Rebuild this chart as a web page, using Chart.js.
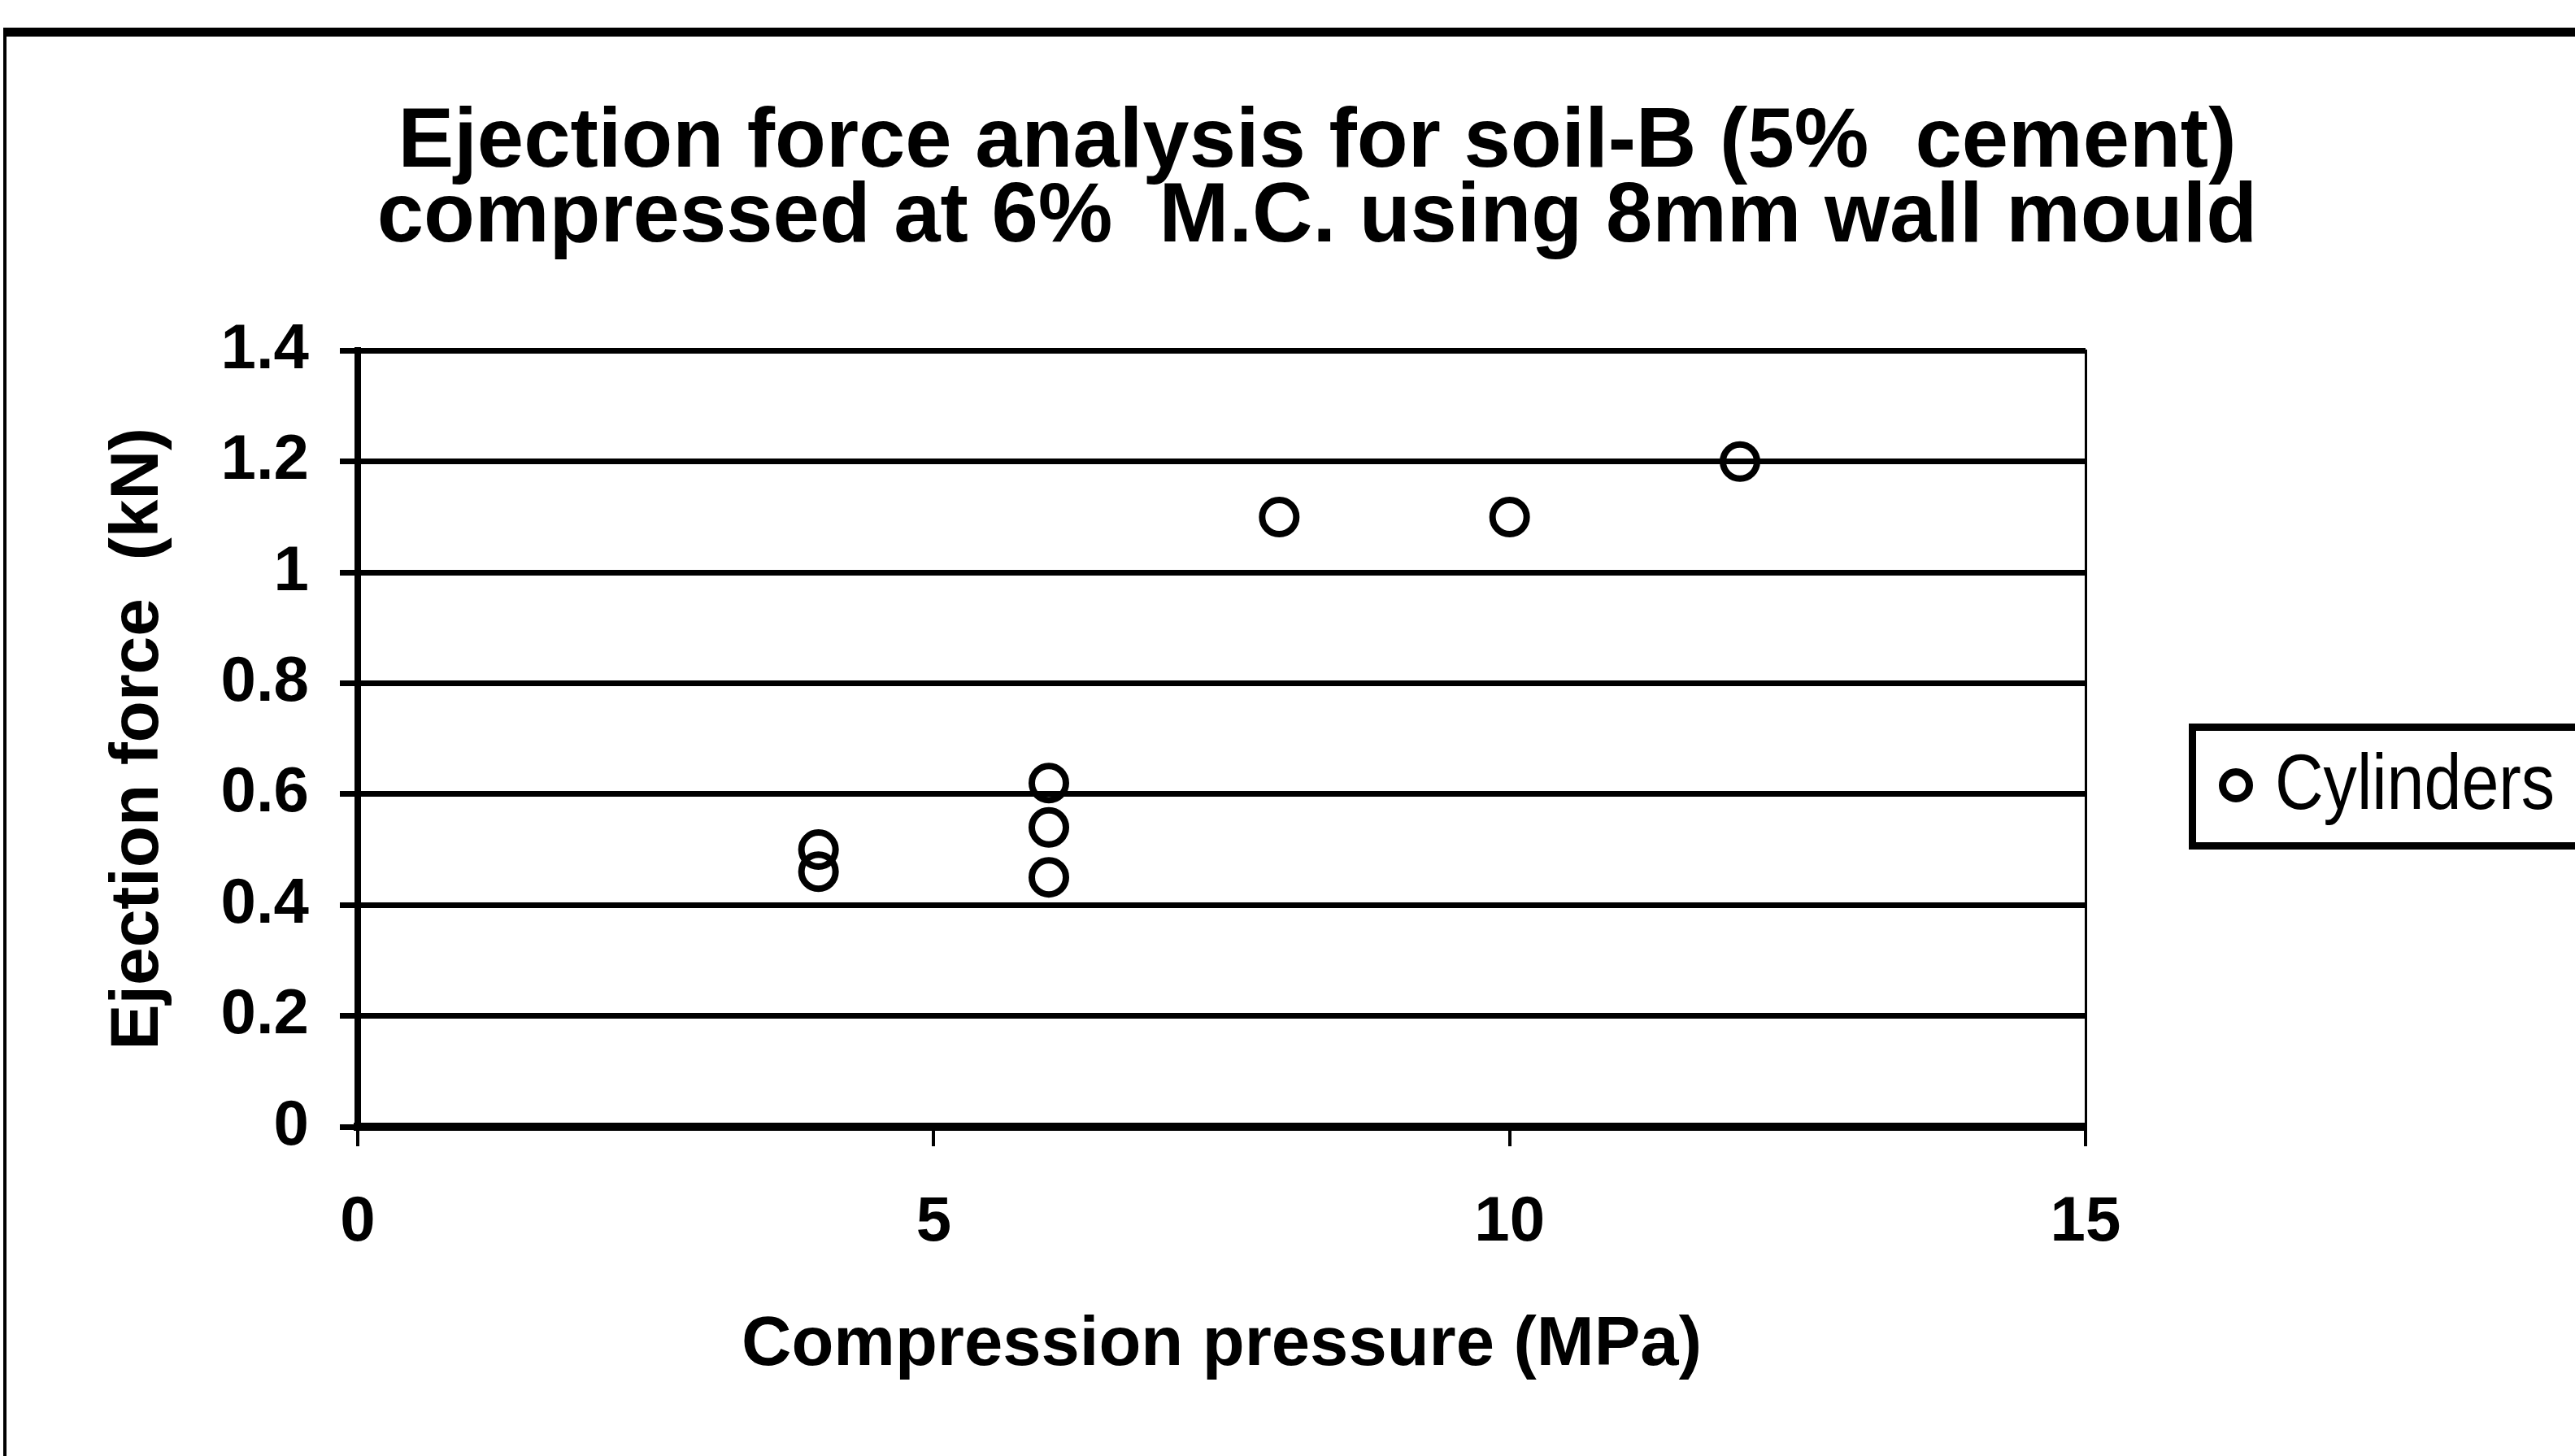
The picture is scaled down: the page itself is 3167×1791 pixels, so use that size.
<!DOCTYPE html>
<html>
<head>
<meta charset="utf-8">
<script src="https://cdn.jsdelivr.net/npm/chart.js@4"></script>
<style>
  body { margin: 0; background: #fff; overflow: hidden; }
  #wrap { position: relative; width: 3167px; height: 1791px; }
  #frame {
    position: absolute; left: 4px; top: 34px; right: -20px; bottom: -20px;
    border-top: 11px solid #000; border-left: 4px solid #000;
  }
  #legend {
    position: absolute; left: 2692px; top: 890px; width: 540px; height: 137px;
    border: 9px solid #000; background: #fff;
    font-family: "Liberation Sans", Arial, sans-serif; color: #000;
  }
  #legend .dot {
    position: absolute; left: 28px; top: 46px;
    width: 24px; height: 24px; border: 9px solid #000; border-radius: 50%;
  }
  #legendLabel {
    position: absolute; left: 97px; top: 15px;
    font-size: 96px; line-height: 1; white-space: nowrap;
    transform: scaleX(0.86); transform-origin: left center;
  }
  canvas { position: absolute; left: 0; top: 0; }
</style>
</head>
<body>
<div id="wrap">
  <div id="frame"></div>
  <canvas id="chart" width="3167" height="1791"></canvas>
  <div id="legend"><span class="dot"></span><span id="legendLabel"></span></div>
</div>
<script>
// data
const seriesName = 'Cylinders';
const pressure = [4, 4, 6, 6, 6, 8, 10, 12];
const ejectionForce = [0.50, 0.46, 0.62, 0.54, 0.45, 1.10, 1.10, 1.20];

const xMin = 0, xMax = 15, xStep = 5;
const yMin = 0, yMax = 1.4, yStep = 0.2;

const titleLines = [
  'Ejection force analysis for soil-B (5%  cement)',
  'compressed at 6%  M.C. using 8mm wall mould'
];
const xTitle = 'Compression pressure (MPa)';
const yTitle = 'Ejection force  (kN)';

const FONT = '"Liberation Sans", Arial, sans-serif';
Chart.defaults.font.family = FONT;
Chart.defaults.color = '#000';

const points = pressure.map((p, i) => ({ x: p, y: ejectionForce[i] }));

const ctx = document.getElementById('chart').getContext('2d');
const chart = new Chart(ctx, {
  type: 'scatter',
  data: {
    datasets: [{
      label: seriesName,
      data: points,
      pointStyle: 'circle',
      pointRadius: 21,
      pointHoverRadius: 21,
      pointBorderWidth: 8,
      borderColor: '#000',
      backgroundColor: 'rgba(0,0,0,0)'
    }]
  },
  options: {
    responsive: false,
    animation: false,
    devicePixelRatio: 1,
    layout: { padding: { top: 40, left: 120, right: 47, bottom: 84 } },
    plugins: {
      legend: { display: false },
      tooltip: { enabled: false },
      title: {
        display: true,
        text: titleLines,
        color: '#000',
        font: { size: 103, weight: 'bold', lineHeight: 0.9 },
        padding: { top: 90, bottom: 116 }
      }
    },
    scales: {
      x: {
        type: 'linear',
        min: xMin, max: xMax,
        ticks: { stepSize: xStep, padding: 48, font: { size: 78, weight: 'bold' } },
        grid: { drawOnChartArea: false, tickLength: 24, color: '#000', lineWidth: 4 },
        border: { color: '#000', width: 10 },
        title: { display: true, text: xTitle, padding: 0, font: { size: 85, weight: 'bold' } },
        afterFit: s => { s.height = 321; }
      },
      y: {
        min: yMin, max: yMax,
        ticks: {
          stepSize: yStep, padding: 38, font: { size: 78, weight: 'bold' },
          callback: v => String(Number(v.toFixed(2)))
        },
        grid: { color: '#000', lineWidth: 7, tickLength: 22 },
        border: { color: '#000', width: 8 },
        title: { display: true, text: yTitle, padding: 0, font: { size: 84, weight: 'bold' } },
        afterFit: s => { s.width = 320; }
      },
      // empty right axis: keeps the room for the legend and draws the right edge of the plot
      y2: {
        position: 'right',
        min: yMin, max: yMax,
        ticks: { display: false },
        grid: { display: false },
        border: { color: '#000', width: 3 },
        afterFit: s => { s.width = 555; }
      }
    }
  }
});

document.getElementById('legendLabel').textContent = chart.data.datasets[0].label;
</script>
</body>
</html>
